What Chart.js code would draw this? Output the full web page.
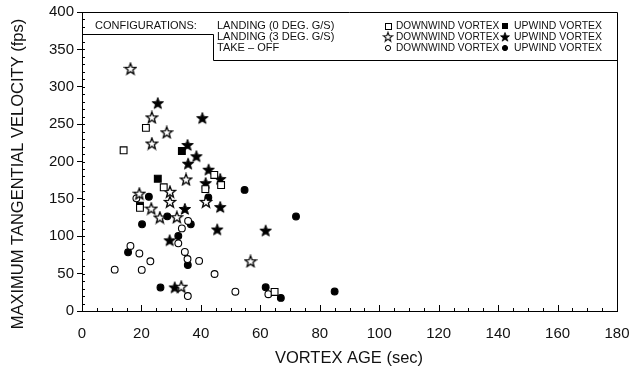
<!DOCTYPE html>
<html>
<head>
<meta charset="utf-8">
<script src="https://cdn.jsdelivr.net/npm/chart.js@4/dist/chart.umd.min.js"></script>
<style>
  html, body { margin: 0; padding: 0; background: #fff; }
  #wrap { position: relative; width: 630px; height: 383px; }
</style>
</head>
<body>
<div id="wrap"><canvas id="chart" width="630" height="383"></canvas></div>
<script>
// values: [vortex age (sec), max tangential velocity (fps)]
const land0Down = [[14, 215], [21.5, 245], [27.5, 165.5], [19.5, 138], [44.5, 182], [46.8, 168.5], [41.5, 163], [64.8, 25.5]];
const land0Up = [[33.6, 214], [25.5, 177], [19.5, 141]];
const land3Down = [[16.3, 324], [23.5, 259], [28.5, 239], [23.5, 224], [35, 176], [19.3, 157], [29.6, 159.5], [29.6, 146],
  [23.3, 137], [26.2, 125], [31.9, 125.5], [33.4, 32.5], [41.7, 146], [56.7, 66.5]];
const land3Up = [[25.5, 278], [40.5, 258], [35.5, 222], [38.5, 207], [35.7, 197], [42.6, 189], [46.5, 176.5], [41.6, 171],
  [46.5, 139], [34.6, 136.5], [29.5, 94.5], [31.2, 31.5], [45.5, 109], [61.8, 107.5]];
const takeoffDown = [[18.3, 150.7], [35.7, 120.5], [33.6, 110.5], [32.4, 90.5], [16.3, 87], [19.3, 77], [34.6, 79], [23, 66.5],
  [35.5, 69.5], [39.4, 67], [11, 55.3], [20.1, 55], [35.6, 20], [44.6, 49.5], [51.6, 25.8], [62.7, 22.5]];
const takeoffUp = [[22.5, 152.8], [28.7, 126.6], [36.6, 116], [20.2, 116], [32.4, 100.3], [15.5, 78.5], [35.6, 61.5], [26.4, 31.5],
  [42.5, 152], [54.7, 162], [72, 126.5], [61.8, 31.7], [66.9, 17.5], [85, 26]];

const xLimits = [0, 180];
const yLimits = [0, 400];
const configLabels = ["LANDING (0 DEG. G/S)", "LANDING (3 DEG. G/S)", "TAKE \u2013 OFF"];
const vortexLabels = ["DOWNWIND VORTEX", "UPWIND VORTEX"];

const FONT = '"Liberation Sans", Arial, sans-serif';

// five pointed star as a small canvas, used as point style
function makeStar(filled) {
  const c = document.createElement("canvas");
  c.width = 14; c.height = 14;
  const g = c.getContext("2d");
  g.beginPath();
  for (let i = 0; i < 10; i++) {
    const r = i % 2 === 0 ? 6 : 2.5;
    const a = -Math.PI / 2 + i * Math.PI / 5;
    const px = 7 + r * Math.cos(a), py = 7.4 + r * Math.sin(a);
    if (i === 0) g.moveTo(px, py); else g.lineTo(px, py);
  }
  g.closePath();
  g.lineWidth = filled ? 1 : 1.3;
  g.strokeStyle = "#000";
  g.fillStyle = filled ? "#000" : "#fff";
  g.fill();
  g.stroke();
  return c;
}
const starOpen = makeStar(false);
const starFilled = makeStar(true);

const toPts = arr => arr.map(p => ({ x: p[0], y: p[1] }));

function series(label, data, style, filled, radius) {
  return {
    label: label,
    data: toPts(data),
    pointStyle: style,
    pointRadius: radius,
    backgroundColor: filled ? "#000" : "#fff",
    borderColor: "#000",
    borderWidth: 1.1,
  };
}

// text squeezed sideways a little
function narrowText(ctx, text, x, y, sx) {
  ctx.save();
  ctx.translate(x, y);
  ctx.scale(sx, 1);
  ctx.fillText(text, 0, 0);
  ctx.restore();
}

// frame, inward ticks, axis titles and the configuration legend
const decorPlugin = {
  id: "decor",
  afterDraw(chart) {
    const ctx = chart.ctx;
    const a = chart.chartArea;
    const xs = chart.scales.x, ys = chart.scales.y;
    ctx.save();
    ctx.strokeStyle = "#000";
    ctx.lineWidth = 1;

    // right and top border
    ctx.beginPath();
    ctx.moveTo(a.left, a.top + 0.5); ctx.lineTo(a.right + 0.5, a.top + 0.5);
    ctx.lineTo(a.right + 0.5, a.bottom);
    ctx.stroke();

    // inward minor ticks
    ctx.beginPath();
    for (let v = xLimits[0]; v <= xLimits[1]; v += 5) {
      const px = Math.round(xs.getPixelForValue(v)) + 0.5;
      const len = v % 20 === 0 ? 6 : 3;
      ctx.moveTo(px, a.bottom); ctx.lineTo(px, a.bottom - len);
    }
    for (let v = yLimits[0]; v <= yLimits[1]; v += 10) {
      const py = Math.round(ys.getPixelForValue(v)) + 0.5;
      ctx.moveTo(a.left, py); ctx.lineTo(a.left + 3, py);
    }
    ctx.stroke();

    // legend box outline
    const stepX = 213, stepY = 34, boxBottom = 60;
    ctx.beginPath();
    ctx.moveTo(a.left, stepY + 0.5); ctx.lineTo(stepX + 0.5, stepY + 0.5);
    ctx.lineTo(stepX + 0.5, boxBottom + 0.5); ctx.lineTo(a.right, boxBottom + 0.5);
    ctx.stroke();

    ctx.fillStyle = "#111";
    ctx.font = "11px " + FONT;
    ctx.textBaseline = "middle";
    ctx.textAlign = "left";
    const rows = [26, 37, 48];
    ctx.fillText("CONFIGURATIONS:", 95, rows[0]);
    configLabels.forEach((t, i) => {
      const y = rows[i];
      ctx.fillText(t, 217, y);
      narrowText(ctx, vortexLabels[0], 396, y, 0.92);
      narrowText(ctx, vortexLabels[1], 514, y, 0.95);
      [[388, false], [505, true]].forEach(([mx, filled]) => {
        ctx.fillStyle = filled ? "#000" : "#fff";
        ctx.strokeStyle = "#000";
        if (i === 0) {
          if (filled) ctx.fillRect(mx - 3, y - 3, 6, 6);
          else { ctx.fillRect(mx - 3, y - 3, 6, 6); ctx.strokeRect(mx - 2.5, y - 2.5, 6, 6); }
        } else if (i === 1) {
          const s = filled ? starFilled : starOpen;
          ctx.save();
          ctx.translate(mx, y);
          ctx.scale(0.8, 0.8);
          ctx.drawImage(s, -7, -7);
          ctx.restore();
        } else {
          ctx.beginPath(); ctx.arc(mx, y, 2.6, 0, Math.PI * 2);
          ctx.fill(); ctx.stroke();
        }
        ctx.fillStyle = "#111";
      });
    });

    // axis titles
    ctx.font = "16.5px " + FONT;
    ctx.textAlign = "center";
    ctx.fillText("VORTEX AGE (sec)", 349, 358);
    ctx.translate(18, 174);
    ctx.rotate(-Math.PI / 2);
    ctx.fillText("MAXIMUM TANGENTIAL VELOCITY (fps)", 0, 0);
    ctx.restore();
  },
};

new Chart(document.getElementById("chart"), {
  type: "scatter",
  data: {
    datasets: [
      series("LANDING (0 DEG. G/S) DOWNWIND VORTEX", land0Down, "rect", false, 4.8),
      series("LANDING (0 DEG. G/S) UPWIND VORTEX", land0Up, "rect", true, 4.8),
      series("LANDING (3 DEG. G/S) DOWNWIND VORTEX", land3Down, starOpen, false, 5),
      series("LANDING (3 DEG. G/S) UPWIND VORTEX", land3Up, starFilled, true, 5),
      series("TAKE-OFF DOWNWIND VORTEX", takeoffDown, "circle", false, 3.4),
      series("TAKE-OFF UPWIND VORTEX", takeoffUp, "circle", true, 3.4),
    ],
  },
  options: {
    responsive: false,
    animation: false,
    layout: { padding: { top: 12, right: 0, left: 0, bottom: 0 } },
    plugins: { legend: { display: false }, tooltip: { enabled: false } },
    scales: {
      x: {
        type: "linear",
        min: xLimits[0],
        max: xLimits[1],
        ticks: { stepSize: 20, color: "#111", font: { size: 15, family: FONT }, padding: 14, maxRotation: 0 },
        grid: { drawOnChartArea: false, drawTicks: false },
        border: { color: "#000", width: 1 },
        afterFit: s => { s.height = 72; s.paddingRight = 13; s.paddingLeft = 0; },
      },
      y: {
        type: "linear",
        min: yLimits[0],
        max: yLimits[1],
        ticks: { stepSize: 50, color: "#111", font: { size: 15, family: FONT }, padding: 3 },
        grid: { drawOnChartArea: false, tickLength: 5, color: "#000" },
        border: { color: "#000", width: 1 },
        afterFit: s => { s.width = 82; },
      },
    },
  },
  plugins: [decorPlugin],
});
</script>
</body>
</html>
